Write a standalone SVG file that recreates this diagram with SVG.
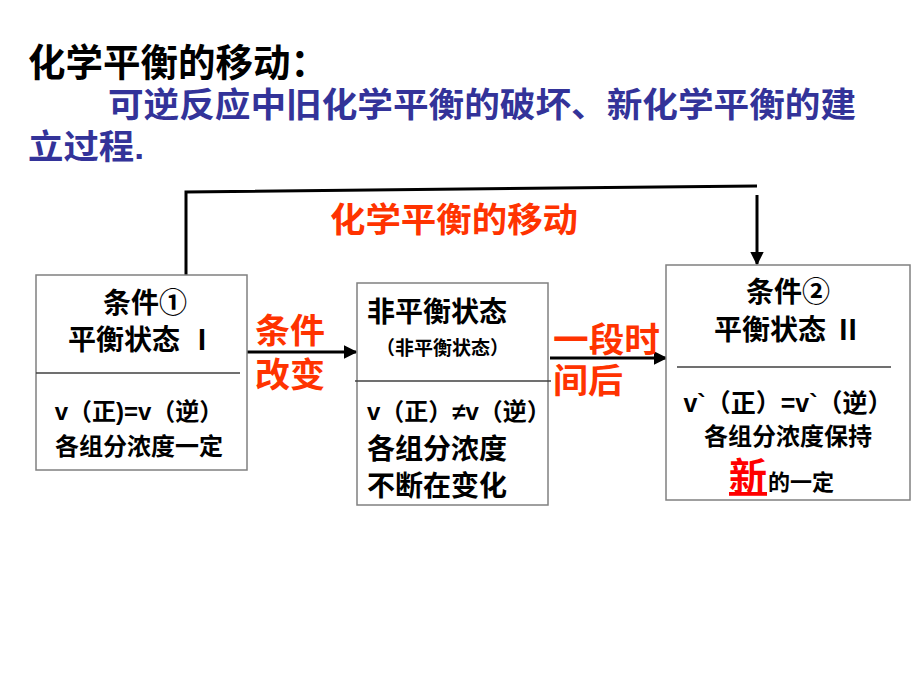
<svg xmlns="http://www.w3.org/2000/svg" width="920" height="690" viewBox="0 0 920 690">
<defs>
<style>
text{font-family:"Liberation Sans","Noto Sans CJK SC",sans-serif;font-weight:bold;}
.blk{fill:#000;}
.blue{fill:#333399;}
.red{fill:#FF3300;}
.box{fill:#fff;stroke:#808080;stroke-width:1.5;}
.div{stroke:#404040;stroke-width:1.5;}
.con{fill:none;stroke:#000;stroke-width:3;}
</style>
<marker id="ah" viewBox="0 0 10 10" refX="9" refY="5" markerWidth="4.5" markerHeight="4.5" orient="auto" markerUnits="strokeWidth">
<path d="M0,0 L10,5 L0,10 z" fill="#000"/>
</marker>
</defs>
<rect width="920" height="690" fill="#fff"/>
<g id="title">
<text class="blk" x="28" y="76" font-size="38" textLength="300" lengthAdjust="spacingAndGlyphs">化学平衡的移动：</text>
<text class="blue" x="108" y="117" font-size="34" textLength="748" lengthAdjust="spacingAndGlyphs">可逆反应中旧化学平衡的破坏、新化学平衡的建</text>
<text class="blue" x="28" y="159" font-size="34" textLength="116" lengthAdjust="spacingAndGlyphs">立过程.</text>
</g>
<g id="connectors">
<polyline class="con" points="186,276 186,192 757,186"/>
<line class="con" x1="757" y1="195" x2="757" y2="264" marker-end="url(#ah)"/>
<line class="con" x1="242" y1="352" x2="356" y2="352" marker-end="url(#ah)"/>
<line class="con" x1="550" y1="358" x2="666" y2="358" marker-end="url(#ah)"/>
<text class="red" x="330" y="232" font-size="34" textLength="248" lengthAdjust="spacingAndGlyphs">化学平衡的移动</text>
<text class="red" x="255" y="343" font-size="34" textLength="70" lengthAdjust="spacingAndGlyphs">条件</text>
<text class="red" x="255" y="387" font-size="34" textLength="70" lengthAdjust="spacingAndGlyphs">改变</text>
<text class="red" x="553" y="352" font-size="34" textLength="107" lengthAdjust="spacingAndGlyphs">一段时</text>
<text class="red" x="553" y="393" font-size="34" textLength="70" lengthAdjust="spacingAndGlyphs">间后</text>
</g>
<g id="node1">
<rect class="box" x="36" y="275" width="211" height="195"/>
<line class="div" x1="36" y1="373" x2="240" y2="373"/>
<text class="blk" x="145" y="313" font-size="28" text-anchor="middle">条件①</text>
<text class="blk" x="142" y="350" font-size="28" text-anchor="middle">平衡状态 Ⅰ</text>
<text class="blk" x="139" y="420" font-size="24" text-anchor="middle">v（正)=v（逆）</text>
<text class="blk" x="139" y="455" font-size="24" text-anchor="middle">各组分浓度一定</text>
</g>
<g id="node2">
<rect class="box" x="357" y="283" width="191" height="222"/>
<line class="div" x1="355" y1="381" x2="551" y2="381"/>
<text class="blk" x="367" y="322" font-size="28">非平衡状态</text>
<text class="blk" x="376" y="355" font-size="19">（非平衡状态）</text>
<text class="blk" x="367" y="420" font-size="24">v（正）≠v（逆）</text>
<text class="blk" x="367" y="459" font-size="28">各组分浓度</text>
<text class="blk" x="367" y="496" font-size="28">不断在变化</text>
</g>
<g id="node3">
<rect class="box" x="666" y="265" width="244" height="235"/>
<line class="div" x1="677" y1="367" x2="891" y2="367"/>
<text class="blk" x="788" y="302" font-size="28" text-anchor="middle">条件②</text>
<text class="blk" x="788" y="340" font-size="28" text-anchor="middle">平衡状态 Ⅱ</text>
<text class="blk" x="788" y="412" font-size="25" text-anchor="middle">v`（正）=v`（逆）</text>
<text class="blk" x="788" y="445" font-size="24" text-anchor="middle">各组分浓度保持</text>
<text x="729" y="490" font-size="38" fill="#FF0000" text-decoration="underline">新</text>
<text class="blk" x="768" y="490" font-size="22">的一定</text>
</g>
</svg>
